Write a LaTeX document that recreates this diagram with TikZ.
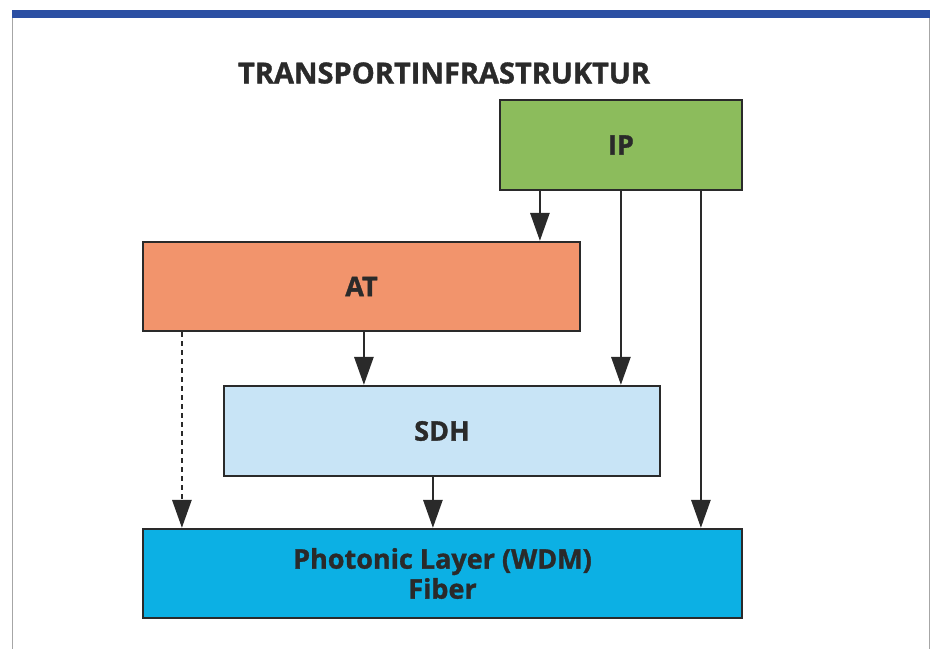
\documentclass[tikz,border=0pt]{standalone}
\usepackage{fontspec}
\setmainfont{Open Sans}[BoldFeatures={FakeBold=1.2}]
\usepackage{tikz}
\usetikzlibrary{arrows.meta}

\definecolor{ipgreen}{HTML}{8CBC5C}
\definecolor{atsalmon}{HTML}{F2946C}
\definecolor{sdhblue}{HTML}{C8E4F6}
\definecolor{wdmcyan}{HTML}{0CB0E4}
\definecolor{barblue}{HTML}{2B4FA3}
\definecolor{edge}{HTML}{2A2A2A}

\tikzset{
  layer/.style={draw=edge, line width=2.2pt, inner sep=0pt, align=center,
    font=\bfseries\fontsize{27}{30}\selectfont, text=edge},
  arr/.style={draw=edge, line width=2.8pt, -{Triangle[length=28pt,width=19pt]}},
}

\begin{document}
\begin{tikzpicture}[x=1pt,y=-1pt]
\useasboundingbox (0,0) rectangle (934,649);

% frame
\fill[barblue] (12,10) rectangle (930,18);
\draw[gray!70, line width=1pt] (12,18) -- (12,649);
\draw[gray!70, line width=1pt] (929,18) -- (929,649);

\node[font=\bfseries\fontsize{29}{32}\selectfont, text=edge] (title) at (444,73) {TRANSPORTINFRASTRUKTUR};

\node[layer, fill=ipgreen, minimum width=242pt, minimum height=90pt] (ip) at (621,145) {IP};
\node[layer, fill=atsalmon, minimum width=437pt, minimum height=89pt] (at) at (361.5,286.5) {AT};
\node[layer, fill=sdhblue, minimum width=436pt, minimum height=90pt] (sdh) at (442,431) {SDH};
\node[layer, fill=wdmcyan, minimum width=599pt, minimum height=89pt] (wdm) at (442.5,573.5) {Photonic Layer (WDM)\\Fiber};

\path (ip.south west) +(41,0) coordinate (ipa);
\path (ip.south west) +(122,0) coordinate (ipb);
\path (ip.south west) +(202,0) coordinate (ipc);
\path (at.south west) +(40,0) coordinate (ata);
\path (at.south west) +(222,0) coordinate (atb);
\path (sdh.south west) +(210,0) coordinate (sdha);

\draw[arr] (ipa) -- (ipa |- at.north);
\draw[arr] (ipb) -- (ipb |- sdh.north);
\draw[arr] (ipc) -- (ipc |- wdm.north);
\draw[arr] (atb) -- (atb |- sdh.north);
\draw[arr, dash pattern=on 5pt off 4pt] (ata) -- (ata |- wdm.north);
\draw[arr] (sdha) -- (sdha |- wdm.north);

\end{tikzpicture}
\end{document}
